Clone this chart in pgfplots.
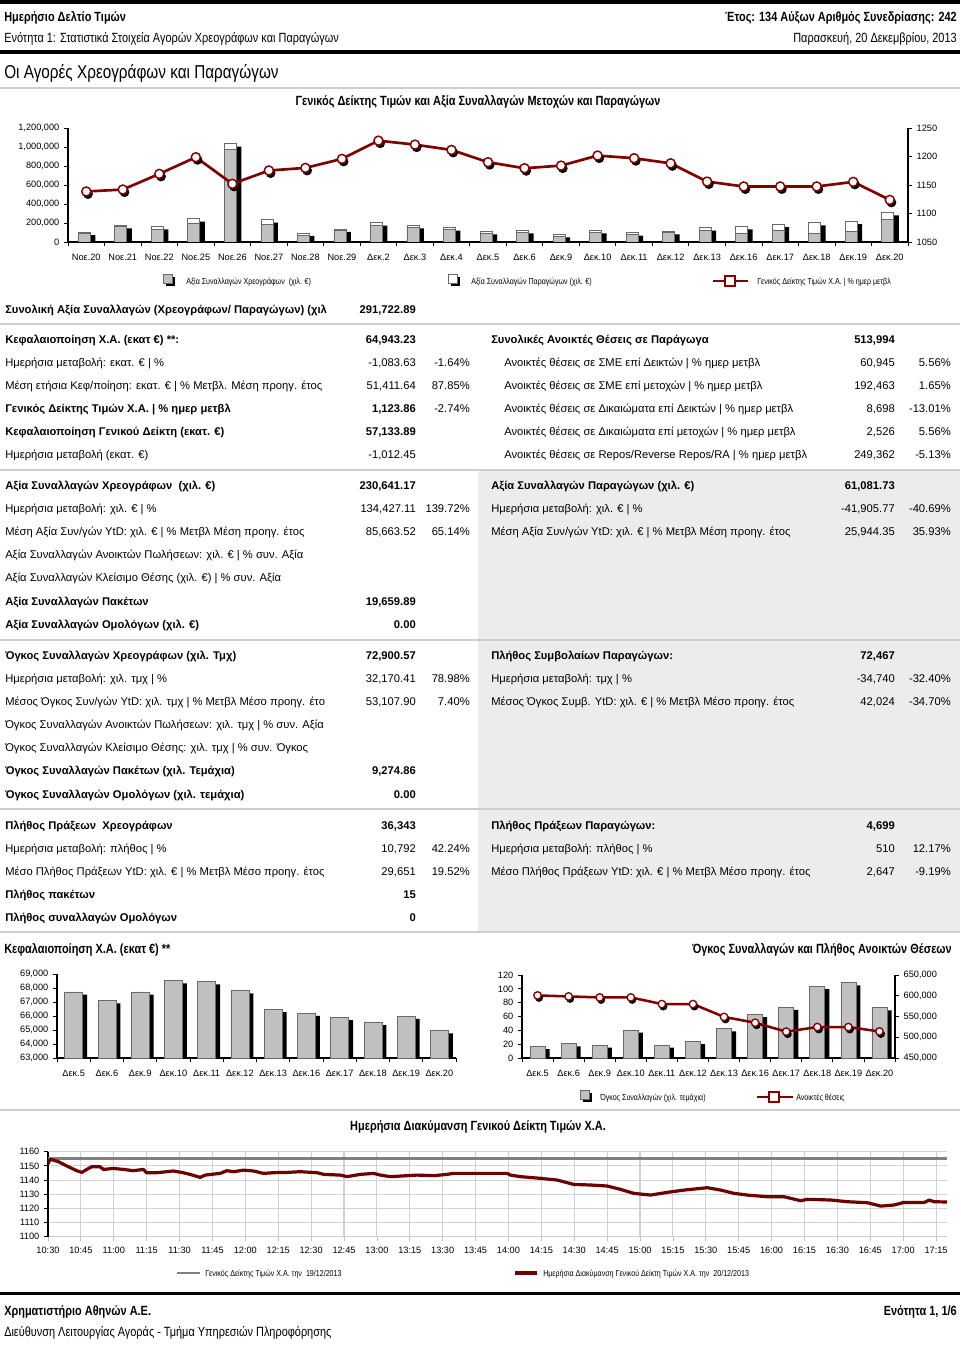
\documentclass[border=0pt]{standalone}
\usepackage{pgfplots}
\usepackage{pgfplotstable}
\pgfplotsset{compat=1.18}
\usepackage{fontspec}
\setmainfont{Liberation Sans}
\newfontfamily\nf[FakeStretch=0.82]{Liberation Sans}
\definecolor{dred}{RGB}{128,0,0}
\definecolor{barg}{RGB}{192,192,192}
\definecolor{bare}{RGB}{105,105,105}
\definecolor{sepg}{RGB}{205,205,205}
\definecolor{bgg}{RGB}{236,236,236}
\newcommand\tf{\fontsize{8.4}{10}\selectfont}
\newcommand\tfb{\fontsize{8.4}{10}\selectfont\bfseries}
\newcommand\hf{\nf\fontsize{10}{12}\selectfont}
\newcommand\lf{\nf\fontsize{6.5}{8}\selectfont}

\pgfplotstableread{
i s t idx
0 88000 105000 1138.6
1 160000 175000 1142
2 130000 165000 1169.5
3 200000 245000 1198.7
4 975000 1035000 1152
5 185000 235000 1175.4
6 75000 95000 1180
7 120000 137000 1195.8
8 172000 203000 1227.8
9 157000 175000 1220.8
10 130000 150000 1211.5
11 95000 112000 1190
12 105000 122000 1179.4
13 63000 80000 1184
14 105000 122000 1201.6
15 80000 98000 1197
16 98000 112000 1188
17 122000 150000 1156
18 95000 165000 1147.4
19 122000 189000 1147.4
20 95000 206000 1147.4
21 108000 220000 1155.5
22 242000 311000 1123.9
}\topdata

\pgfplotstableread{
i cap
0 67719
1 67102
2 67719
3 68525
4 68454
5 67814
6 66462
7 66201
8 65893
9 65537
10 65988
11 64943
}\capdata

\pgfplotstableread{
i vol oi
0 16.8 600800
1 20.7 598400
2 18.8 596000
3 40.4 596000
4 18.8 580000
5 24.0 580000
6 42.3 549000
7 63.0 535000
8 73.6 513500
9 103.4 524600
10 109.0 524600
11 72.9 513994
}\drvdata

\pgfplotsset{
  base/.style={scale only axis, anchor=south west, tick align=outside,
    major tick length=3pt, minor tick length=3pt,
    tick style={black, line width=0.6pt}, axis line style={black, line width=0.8pt},
    tick label style={font=\fontsize{6.9}{8}\selectfont},
    /pgf/number format/assume math mode=true, scaled y ticks=false,
    /pgf/number format/fixed, /pgf/number format/1000 sep={,}},
}

\begin{document}
\begin{tikzpicture}[x=0.75pt,y=-0.75pt,
  L/.style={anchor=base west,inner sep=0pt,font=\tf},
  R/.style={anchor=base east,inner sep=0pt,font=\tf},
  LB/.style={anchor=base west,inner sep=0pt,font=\tfb},
  RB/.style={anchor=base east,inner sep=0pt,font=\tfb},
  LG/.style={anchor=base west,inner sep=0pt,font=\lf}]
\fill[white] (0,0) rectangle (960,1348);
\useasboundingbox (0,0) rectangle (960,1348);

% backgrounds
\fill[bgg] (478,471) rectangle (960,639);
\fill[bgg] (478,641) rectangle (960,808);
\fill[bgg] (478,810) rectangle (960,931);

% rules
\fill[black] (0,0.5) rectangle (960,4);
\fill[black] (0,50.5) rectangle (960,54);
\fill[black] (0,1291.5) rectangle (960,1295);
\foreach \yy in {88,324,470,640,809,932,1110}{\draw[sepg, line width=1.1pt] (0,\yy) -- (960,\yy);}

% header
\node[anchor=base west,inner sep=0pt,font=\hf\bfseries] at (4,22) {Ημερήσιο Δελτίο Τιμών};
\node[anchor=base east,inner sep=0pt,font=\hf\bfseries] at (957,22) {Έτος: 134 Αύξων Αριθμός Συνεδρίασης: 242};
\node[anchor=base west,inner sep=0pt,font=\hf] at (4,43) {Ενότητα 1: Στατιστικά Στοιχεία Αγορών Χρεογράφων και Παραγώγων};
\node[anchor=base east,inner sep=0pt,font=\hf] at (957,43) {Παρασκευή, 20 Δεκεμβρίου, 2013};
\node[anchor=base west,inner sep=0pt,font=\nf\fontsize{14}{16}\selectfont] at (4,79) {Οι Αγορές Χρεογράφων και Παραγώγων};
\node[anchor=base,inner sep=0pt,font=\hf\bfseries] at (478,106) {Γενικός Δείκτης Τιμών και Αξία Συναλλαγών Μετοχών και Παραγώγων};

% top chart
\begin{axis}[base, at={({68*0.75pt},{-242*0.75pt})}, width=630pt, height=85.5pt,
  xmin=-0.5, xmax=22.5, ymin=0, ymax=1200000,
  ytick={0,200000,400000,600000,800000,1000000,1200000},
  axis x line*=bottom, axis y line*=left,
  xtick={0,...,22}, xticklabel style={yshift=-2.5pt},
  xticklabels={Νοε.20,Νοε.21,Νοε.22,Νοε.25,Νοε.26,Νοε.27,Νοε.28,Νοε.29,Δεκ.2,Δεκ.3,Δεκ.4,Δεκ.5,Δεκ.6,Δεκ.9,Δεκ.10,Δεκ.11,Δεκ.12,Δεκ.13,Δεκ.16,Δεκ.17,Δεκ.18,Δεκ.19,Δεκ.20},
  major x tick style={draw=none}, minor xtick={-0.5,0.5,...,22.5},
  ybar, bar width=9pt]
\addplot[fill=black, draw=none, bar shift=2.25pt, yshift=-2.25pt] table[x=i,y=t]{\topdata};
\addplot[fill=white, draw=bare, line width=0.5pt, bar shift=-1.5pt] table[x=i,y=t]{\topdata};
\addplot[fill=barg, draw=bare, line width=0.5pt, bar shift=-1.5pt] table[x=i,y=s]{\topdata};
\end{axis}
\begin{axis}[base, at={({68*0.75pt},{-242*0.75pt})}, width=630pt, height=85.5pt,
  xmin=-0.5, xmax=22.5, ymin=1050, ymax=1250, ytick={1050,1100,...,1250},
  axis y line*=right, axis x line=none, /pgf/number format/1000 sep={}, clip=false]
\addplot[only marks, mark=*, mark size=3.4pt, black, xshift=1.3pt, yshift=-2pt] table[x=i,y=idx]{\topdata};
\addplot[dred, line width=2pt, mark=*, mark size=3.4pt, mark options={fill=white, draw=dred, line width=1.1pt}] table[x=i,y=idx]{\topdata};
\end{axis}

% top legend
\fill[black] (166,277) rectangle (175,286);
\filldraw[fill=barg, draw=bare, line width=0.4pt] (163,274) rectangle (172,283);
\node[LG] at (186,284) {Αξία Συναλλαγών Χρεογράφων\ \ (χιλ. €)};
\fill[black] (451,277) rectangle (460,286);
\filldraw[fill=white, draw=bare, line width=0.4pt] (448,274) rectangle (457,283);
\node[LG] at (471,284) {Αξία Συναλλαγών Παραγώγων (χιλ. €)};
\draw[dred, line width=2pt] (713,281) -- (748,281);
\filldraw[fill=white, draw=dred, line width=1.1pt] (725,276) rectangle (735,286);
\node[LG] at (757,284) {Γενικός Δείκτης Τιμών Χ.Α. | \% ημερ μετβλ};

% table block 0
\node[LB] at (5,313) {Συνολική Αξία Συναλλαγών (Χρεογράφων/ Παραγώγων) (χιλ};
\node[RB] at (416,313) {291,722.89};
% block 1
\node[LB] at (5,343) {Κεφαλαιοποίηση Χ.Α. (εκατ €) **:};
\node[RB] at (416,343) {64,943.23};
\node[LB] at (491,343) {Συνολικές Ανοικτές Θέσεις σε Παράγωγα};
\node[RB] at (895,343) {513,994};
\node[L] at (5,366) {Ημερήσια μεταβολή: εκατ. € | \%};
\node[R] at (416,366) {-1,083.63}; \node[R] at (470,366) {-1.64\%};
\node[L] at (504,366) {Ανοικτές θέσεις σε ΣΜΕ επί Δεικτών | \% ημερ μετβλ};
\node[R] at (895,366) {60,945}; \node[R] at (951,366) {5.56\%};
\node[L] at (5,389) {Μέση ετήσια Κεφ/ποίηση: εκατ. € | \% Μετβλ. Μέση προηγ. έτος};
\node[R] at (416,389) {51,411.64}; \node[R] at (470,389) {87.85\%};
\node[L] at (504,389) {Ανοικτές θέσεις σε ΣΜΕ επί μετοχών | \% ημερ μετβλ};
\node[R] at (895,389) {192,463}; \node[R] at (951,389) {1.65\%};
\node[LB] at (5,412) {Γενικός Δείκτης Τιμών Χ.Α. | \% ημερ μετβλ};
\node[RB] at (416,412) {1,123.86}; \node[R] at (470,412) {-2.74\%};
\node[L] at (504,412) {Ανοικτές θέσεις σε Δικαιώματα επί Δεικτών | \% ημερ μετβλ};
\node[R] at (895,412) {8,698}; \node[R] at (951,412) {-13.01\%};
\node[LB] at (5,435) {Κεφαλαιοποίηση Γενικού Δείκτη (εκατ. €)};
\node[RB] at (416,435) {57,133.89};
\node[L] at (504,435) {Ανοικτές θέσεις σε Δικαιώματα επί μετοχών | \% ημερ μετβλ};
\node[R] at (895,435) {2,526}; \node[R] at (951,435) {5.56\%};
\node[L] at (5,458) {Ημερήσια μεταβολή (εκατ. €)};
\node[R] at (416,458) {-1,012.45};
\node[L] at (504,458) {Ανοικτές θέσεις σε Repos/Reverse Repos/RA | \% ημερ μετβλ};
\node[R] at (895,458) {249,362}; \node[R] at (951,458) {-5.13\%};
% block 2
\node[LB] at (5,489) {Αξία Συναλλαγών Χρεογράφων\ \ (χιλ. €)};
\node[RB] at (416,489) {230,641.17};
\node[LB] at (491,489) {Αξία Συναλλαγών Παραγώγων (χιλ. €)};
\node[RB] at (895,489) {61,081.73};
\node[L] at (5,512) {Ημερήσια μεταβολή: χιλ. € | \%};
\node[R] at (416,512) {134,427.11}; \node[R] at (470,512) {139.72\%};
\node[L] at (491,512) {Ημερήσια μεταβολή: χιλ. € | \%};
\node[R] at (895,512) {-41,905.77}; \node[R] at (951,512) {-40.69\%};
\node[L] at (5,535) {Μέση Αξία Συν/γών YtD: χιλ. € | \% Μετβλ Μέση προηγ. έτος};
\node[R] at (416,535) {85,663.52}; \node[R] at (470,535) {65.14\%};
\node[L] at (491,535) {Μέση Αξία Συν/γών YtD: χιλ. € | \% Μετβλ Μέση προηγ. έτος};
\node[R] at (895,535) {25,944.35}; \node[R] at (951,535) {35.93\%};
\node[L] at (5,558) {Αξία Συναλλαγών Ανοικτών Πωλήσεων: χιλ. € | \% συν. Αξία};
\node[L] at (5,581) {Αξία Συναλλαγών Κλείσιμο Θέσης (χιλ. €) | \% συν. Αξία};
\node[LB] at (5,605) {Αξία Συναλλαγών Πακέτων};
\node[RB] at (416,605) {19,659.89};
\node[LB] at (5,628) {Αξία Συναλλαγών Ομολόγων (χιλ. €)};
\node[RB] at (416,628) {0.00};
% block 3
\node[LB] at (5,659) {Όγκος Συναλλαγών Χρεογράφων (χιλ. Τμχ)};
\node[RB] at (416,659) {72,900.57};
\node[LB] at (491,659) {Πλήθος Συμβολαίων Παραγώγων:};
\node[RB] at (895,659) {72,467};
\node[L] at (5,682) {Ημερήσια μεταβολή: χιλ. τμχ | \%};
\node[R] at (416,682) {32,170.41}; \node[R] at (470,682) {78.98\%};
\node[L] at (491,682) {Ημερήσια μεταβολή: τμχ | \%};
\node[R] at (895,682) {-34,740}; \node[R] at (951,682) {-32.40\%};
\node[L] at (5,705) {Μέσος Όγκος Συν/γών YtD: χιλ. τμχ | \% Μετβλ Μέσο προηγ. έτο};
\node[R] at (416,705) {53,107.90}; \node[R] at (470,705) {7.40\%};
\node[L] at (491,705) {Μέσος Όγκος Συμβ. YtD: χιλ. € | \% Μετβλ Μέσο προηγ. έτος};
\node[R] at (895,705) {42,024}; \node[R] at (951,705) {-34.70\%};
\node[L] at (5,728) {Όγκος Συναλλαγών Ανοικτών Πωλήσεων: χιλ. τμχ | \% συν. Αξία};
\node[L] at (5,751) {Όγκος Συναλλαγών Κλείσιμο Θέσης: χιλ. τμχ | \% συν. Όγκος};
\node[LB] at (5,774) {Όγκος Συναλλαγών Πακέτων (χιλ. Τεμάχια)};
\node[RB] at (416,774) {9,274.86};
\node[LB] at (5,798) {Όγκος Συναλλαγών Ομολόγων (χιλ. τεμάχια)};
\node[RB] at (416,798) {0.00};
% block 4
\node[LB] at (5,829) {Πλήθος Πράξεων\ \ Χρεογράφων};
\node[RB] at (416,829) {36,343};
\node[LB] at (491,829) {Πλήθος Πράξεων Παραγώγων:};
\node[RB] at (895,829) {4,699};
\node[L] at (5,852) {Ημερήσια μεταβολή: πλήθος | \%};
\node[R] at (416,852) {10,792}; \node[R] at (470,852) {42.24\%};
\node[L] at (491,852) {Ημερήσια μεταβολή: πλήθος | \%};
\node[R] at (895,852) {510}; \node[R] at (951,852) {12.17\%};
\node[L] at (5,875) {Μέσο Πλήθος Πράξεων YtD: χιλ. € | \% Μετβλ Μέσο προηγ. έτος};
\node[R] at (416,875) {29,651}; \node[R] at (470,875) {19.52\%};
\node[L] at (491,875) {Μέσο Πλήθος Πράξεων YtD: χιλ. € | \% Μετβλ Μέσο προηγ. έτος};
\node[R] at (895,875) {2,647}; \node[R] at (951,875) {-9.19\%};
\node[LB] at (5,898) {Πλήθος πακέτων};
\node[RB] at (416,898) {15};
\node[LB] at (5,921) {Πλήθος συναλλαγών Ομολόγων};
\node[RB] at (416,921) {0};

% lower chart titles
\node[anchor=base west,inner sep=0pt,font=\hf\bfseries] at (4,953) {Κεφαλαιοποίηση Χ.Α. (εκατ €) **};
\node[anchor=base east,inner sep=0pt,font=\hf\bfseries] at (952,953) {Όγκος Συναλλαγών και Πλήθος Ανοικτών Θέσεων};

% capitalisation chart
\begin{axis}[base, at={({57*0.75pt},{-1058*0.75pt})}, width=299.25pt, height=63pt,
  xmin=-0.5, xmax=11.5, ymin=63000, ymax=69000,
  ytick={63000,64000,...,69000},
  axis x line*=bottom, axis y line*=left,
  xtick={0,...,11}, xticklabel style={yshift=-2.5pt},
  xticklabels={Δεκ.5,Δεκ.6,Δεκ.9,Δεκ.10,Δεκ.11,Δεκ.12,Δεκ.13,Δεκ.16,Δεκ.17,Δεκ.18,Δεκ.19,Δεκ.20},
  major x tick style={draw=none}, minor xtick={-0.5,0.5,...,11.5},
  ybar, bar width=13.5pt]
\addplot[fill=black, draw=none, bar shift=3.4pt, yshift=-2pt] table[x=i,y=cap]{\capdata};
\addplot[fill=barg, draw=bare, line width=0.5pt, bar shift=0pt] table[x=i,y=cap]{\capdata};
\end{axis}

% derivatives chart
\begin{axis}[base, at={({522*0.75pt},{-1058*0.75pt})}, width=279.75pt, height=62.25pt,
  xmin=-0.5, xmax=11.5, ymin=0, ymax=120, ytick={0,20,...,120},
  axis x line*=bottom, axis y line*=left,
  xtick={0,...,11}, xticklabel style={yshift=-2.5pt},
  xticklabels={Δεκ.5,Δεκ.6,Δεκ.9,Δεκ.10,Δεκ.11,Δεκ.12,Δεκ.13,Δεκ.16,Δεκ.17,Δεκ.18,Δεκ.19,Δεκ.20},
  major x tick style={draw=none}, minor xtick={-0.5,0.5,...,11.5},
  ybar, bar width=11.25pt]
\addplot[fill=black, draw=none, bar shift=3.4pt, yshift=-2pt] table[x=i,y=vol]{\drvdata};
\addplot[fill=barg, draw=bare, line width=0.5pt, bar shift=0pt] table[x=i,y=vol]{\drvdata};
\end{axis}
\begin{axis}[base, at={({522*0.75pt},{-1058*0.75pt})}, width=279.75pt, height=62.25pt,
  xmin=-0.5, xmax=11.5, ymin=450000, ymax=650000, ytick={450000,500000,...,650000},
  axis y line*=right, axis x line=none, clip=false]
\addplot[only marks, mark=*, mark size=2.8pt, black, xshift=1.1pt, yshift=-1.8pt] table[x=i,y=oi]{\drvdata};
\addplot[dred, line width=1.9pt, mark=*, mark size=2.8pt, mark options={fill=white, draw=dred, line width=1pt}] table[x=i,y=oi]{\drvdata};
\end{axis}

% derivatives legend
\fill[black] (583,1093) rectangle (592,1102);
\filldraw[fill=barg, draw=bare, line width=0.4pt] (580,1090) rectangle (589,1099);
\node[LG] at (600,1100) {Όγκος Συναλλαγών (χιλ. τεμάχια)};
\draw[dred, line width=1.9pt] (757,1097) -- (793,1097);
\filldraw[fill=white, draw=dred, line width=1pt] (769,1092) rectangle (779,1102);
\node[LG] at (796,1100) {Ανοικτές θέσεις};

% intraday title
\node[anchor=base,inner sep=0pt,font=\hf\bfseries] at (478,1130) {Ημερήσια Διακύμανση Γενικού Δείκτη Τιμών Χ.Α.};

% intraday chart
\begin{axis}[base, at={({48*0.75pt},{-1236.7*0.75pt})}, width=674.25pt, height=63.75pt,
  xmin=0, xmax=410, ymin=1100, ymax=1160, ytick={1100,1110,...,1160},
  xtick={0,15,...,405}, xticklabel style={yshift=-1.5pt},
  xticklabels={10:30,10:45,11:00,11:15,11:30,11:45,12:00,12:15,12:30,12:45,13:00,13:15,13:30,13:45,14:00,14:15,14:30,14:45,15:00,15:15,15:30,15:45,16:00,16:15,16:30,16:45,17:00,17:15},
  grid=major, grid style={gray!35, line width=0.8pt},
  axis x line*=bottom, axis y line*=left,
  x axis line style={gray!40}, x tick style={gray!50},
  /pgf/number format/1000 sep={}]
\addplot[gray, line width=2.2pt] coordinates {(0,1155.52) (410,1155.52)};
\addplot[dred!85!black, line width=2.4pt, line join=round] coordinates {
(0,1151.5)(0.9,1154.6)(2.4,1154.1)(4.7,1153)(8.5,1150)(13.1,1146.6)(15.4,1145.4)(17.7,1147.5)(19.9,1149.4)(23.7,1149.4)(25.3,1147.5)(29.8,1148.2)(34.4,1147.5)(38.9,1146.6)(43.5,1147.5)(45,1145.2)(49.6,1145.2)(54.2,1145.9)(57.2,1146.4)(61,1145.4)(64.8,1144)(69.4,1141.9)(71.7,1143.5)(75.5,1144.2)(78.5,1144.7)(81.6,1146.6)(84.6,1145.9)(89.2,1147)(93.7,1146.4)(98.3,1144.7)(102.9,1145.2)(109,1145.4)(115,1145.9)(122.7,1145.2)(125.7,1144)(133.3,1143.5)(136.4,1142.4)(142.4,1144)(148.5,1144.7)(151.6,1143.5)(156.1,1142.4)(160.7,1142.8)(168.3,1143.5)(175.9,1143.1)(182,1144)(185,1144.7)(197.2,1144.7)(209.4,1144.7)(210.9,1143.5)(215.5,1142.4)(224.6,1141.2)(232.2,1140)(239.8,1136.9)(247.4,1136.5)(255,1135.8)(261.1,1133.4)(267.2,1130.6)(274.8,1129.4)(282.4,1131.3)(290,1132.9)(300.7,1134.6)(306.8,1132.9)(312.9,1130.6)(318.9,1129.4)(328.1,1128.2)(335.7,1128.2)(343.3,1125.4)(346.3,1126.4)(357,1125.9)(364.6,1124.7)(373.7,1124)(379.8,1121.6)(385.9,1122.4)(390.4,1124.2)(399.6,1124.2)(401.9,1125.9)(404.1,1124.7)(410,1124.5)};
\end{axis}

% intraday legend
\draw[gray, line width=2.2pt] (177,1273) -- (200,1273);
\node[LG] at (205,1276) {Γενικός Δείκτης Τιμών Χ.Α. την\ \ 19/12/2013};
\draw[dred!85!black, line width=2.4pt] (515,1273) -- (537,1273);
\node[LG] at (543,1276) {Ημερήσια Διακύμανση Γενικού Δείκτη Τιμών Χ.Α. την\ \ 20/12/2013};

% footer
\node[anchor=base west,inner sep=0pt,font=\hf\bfseries] at (4,1315) {Χρηματιστήριο Αθηνών Α.Ε.};
\node[anchor=base east,inner sep=0pt,font=\hf\bfseries] at (957,1315) {Ενότητα 1, 1/6};
\node[anchor=base west,inner sep=0pt,font=\hf] at (4,1336) {Διεύθυνση Λειτουργίας Αγοράς - Τμήμα Υπηρεσιών Πληροφόρησης};
\end{tikzpicture}
\end{document}
